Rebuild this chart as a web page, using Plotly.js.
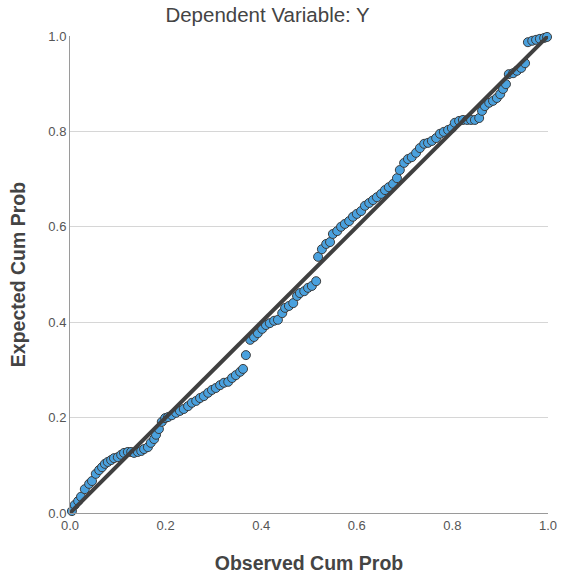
<!DOCTYPE html>
<html>
<head>
<meta charset="utf-8">
<script src="https://cdn.plot.ly/plotly-3.0.1.min.js"></script>
<style>html,body{margin:0;padding:0;background:#fff;}#chart{width:561px;height:581px;}</style>
</head>
<body>
<div id="chart"></div>
<script>
// Observed cumulative probability (x) and expected cumulative probability (y)
const observedCumProb = [
  0.004,0.010,0.017,0.023,0.031,0.040,0.046,0.054,0.061,0.067,
  0.073,0.079,0.086,0.092,0.100,0.107,0.113,0.121,0.128,0.134,
  0.142,0.149,0.155,0.163,0.169,0.176,0.180,0.186,0.192,0.199,
  0.205,0.213,0.222,0.230,0.238,0.247,0.255,0.264,0.272,0.280,
  0.289,0.297,0.305,0.314,0.322,0.331,0.339,0.347,0.356,0.362,
  0.368,0.377,0.385,0.393,0.402,0.410,0.418,0.427,0.435,0.444,
  0.450,0.458,0.467,0.475,0.481,0.490,0.498,0.506,0.515,0.519,
  0.527,0.536,0.544,0.550,0.559,0.567,0.575,0.584,0.592,0.600,
  0.609,0.617,0.626,0.634,0.642,0.651,0.659,0.667,0.676,0.684,
  0.690,0.699,0.707,0.715,0.724,0.732,0.741,0.749,0.757,0.766,
  0.774,0.782,0.791,0.799,0.805,0.814,0.822,0.831,0.839,0.847,
  0.856,0.862,0.868,0.877,0.885,0.893,0.900,0.906,0.912,0.918,
  0.927,0.935,0.944,0.952,0.958,0.967,0.975,0.983,0.992,0.998
];
const expectedCumProb = [
  0.004,0.017,0.025,0.034,0.050,0.061,0.067,0.082,0.090,0.096,
  0.103,0.107,0.111,0.115,0.117,0.122,0.126,0.128,0.128,0.126,
  0.128,0.130,0.134,0.138,0.147,0.155,0.164,0.176,0.191,0.199,
  0.201,0.205,0.210,0.214,0.218,0.224,0.231,0.235,0.241,0.245,
  0.252,0.258,0.262,0.268,0.273,0.275,0.283,0.289,0.296,0.302,
  0.331,0.363,0.369,0.377,0.386,0.394,0.398,0.403,0.405,0.419,
  0.430,0.434,0.440,0.455,0.461,0.465,0.472,0.476,0.486,0.537,
  0.553,0.564,0.568,0.585,0.591,0.600,0.606,0.612,0.621,0.627,
  0.633,0.644,0.650,0.656,0.662,0.669,0.677,0.683,0.690,0.702,
  0.719,0.734,0.742,0.746,0.755,0.765,0.774,0.776,0.780,0.786,
  0.795,0.799,0.803,0.807,0.818,0.822,0.824,0.824,0.824,0.824,
  0.828,0.843,0.853,0.860,0.864,0.870,0.878,0.889,0.899,0.920,
  0.922,0.927,0.933,0.943,0.987,0.990,0.992,0.994,0.996,0.998
];
// Reference line endpoints
const refLineX = [0, 1];
const refLineY = [0, 1];
const tickVals = [0, 0.2, 0.4, 0.6, 0.8, 1.0];
const tickText = ["0.0", "0.2", "0.4", "0.6", "0.8", "1.0"];

const FONT = "Liberation Sans, Arial, sans-serif";

const traces = [
  {
    x: observedCumProb, y: expectedCumProb, type: "scatter", mode: "markers",
    marker: {size: 9, color: "rgb(74,161,222)", line: {color: "rgb(60,60,60)", width: 1}},
    cliponaxis: false, hoverinfo: "x+y"
  },
  {
    x: refLineX, y: refLineY, type: "scatter", mode: "lines",
    line: {color: "rgb(64,64,64)", width: 4}, cliponaxis: false, hoverinfo: "skip"
  }
];

const layout = {
  width: 561, height: 581,
  margin: {l: 70, r: 13, t: 36, b: 68},
  paper_bgcolor: "#ffffff", plot_bgcolor: "rgba(0,0,0,0)",
  showlegend: false,
  font: {family: FONT, color: "#555555", size: 13},
  title: {
    text: "Dependent Variable: Y",
    font: {family: FONT, size: 20.5, color: "#444444"},
    xref: "container", x: 0.477, xanchor: "center",
    yref: "container", y: 1 - 15/581, yanchor: "middle"
  },
  xaxis: {
    range: [0, 1], tickvals: tickVals, ticktext: tickText,
    showgrid: false, zeroline: false,
    showline: true, linecolor: "#9a9a9a", linewidth: 1,
    ticks: "", tickfont: {size: 13, color: "#555555"},
    title: {text: "<b>Observed Cum Prob</b>", font: {family: FONT, size: 19.5, color: "#444444"}, standoff: 24},
    automargin: false
  },
  yaxis: {
    range: [0, 1], tickvals: tickVals, ticktext: tickText,
    showgrid: true, gridcolor: "#d6d6d6", gridwidth: 1,
    zeroline: false, showline: true, linecolor: "#9a9a9a", linewidth: 1,
    ticks: "", tickfont: {size: 13, color: "#555555"},
    title: {text: "<b>Expected Cum Prob</b>", font: {family: FONT, size: 19.5, color: "#444444"}, standoff: 17},
    automargin: false
  }
};

Plotly.newPlot("chart", traces, layout, {displayModeBar: false, staticPlot: true});
</script>
</body>
</html>
